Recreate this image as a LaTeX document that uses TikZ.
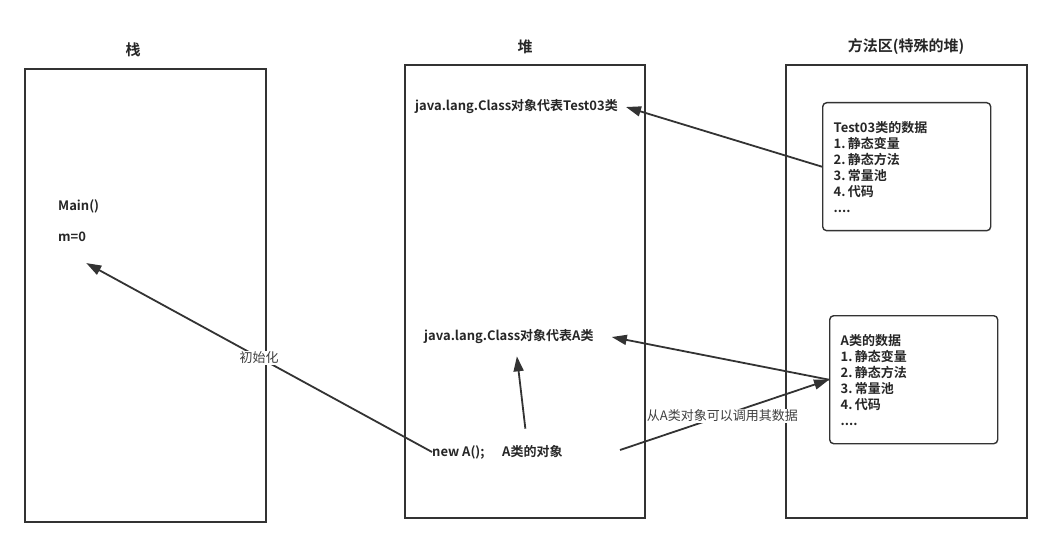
\documentclass[tikz,border=0pt]{standalone}
\usepackage{fontspec}
\setmainfont{Noto Sans CJK SC}[BoldFont={Noto Sans CJK SC Bold}]
\usetikzlibrary{arrows.meta}

\begin{document}
\begin{tikzpicture}[x=1pt, y=-1pt,
  area/.style={draw=black!80, line width=1.6pt},
  databox/.style={draw=black!80, line width=1.4pt, rounded corners=4pt, align=left,
    text width=146pt, inner xsep=11pt, minimum height=128pt, anchor=north west,
    font=\bfseries\fontsize{13}{16}\selectfont, text=black!85},
  title/.style={font=\bfseries\fontsize{15}{18}\selectfont, text=black!85},
  txt/.style={font=\bfseries\fontsize{13}{15}\selectfont, inner sep=0pt, anchor=west, text=black!85},
  arr/.style={draw=black!80, line width=1.8pt, -{Triangle[length=15pt,width=10pt]}},
  lbl/.style={font=\fontsize{13}{15}\selectfont, fill=white, inner sep=1pt, text=black!75},
]
  \useasboundingbox (0,0) rectangle (1052,548);

  % the three areas
  \draw[area] (25,69) rectangle (266,522);
  \draw[area] (405,65) rectangle (645,518);
  \draw[area] (786,65) rectangle (1027,518);
  \node[title] (stackT) at (133,50) {栈};
  \node[title] (heapT) at (525,47) {堆};
  \node[title] (methT) at (906,47) {方法区(特殊的堆)};

  % stack
  \node[txt] (main) at (58,206) {Main()};
  \node[txt] (m) at (58,237) {m=0};

  % heap
  \node[txt] (clsT) at (415,107) {java.lang.Class对象代表Test03类};
  \node[txt] (clsA) at (424,337) {java.lang.Class对象代表A类};
  \node[txt] (newA) at (432,452) {new A();};
  \node[txt] (objA) at (502,452) {A类的对象};

  % method area
  \node[databox] (t03) at (822,102) {Test03类的数据\\1.\,静态变量\\2.\,静态方法\\3.\,常量池\\4.\,代码\\....};
  \node[databox] (aData) at (829,315) {A类的数据\\1.\,静态变量\\2.\,静态方法\\3.\,常量池\\4.\,代码\\....};

  \coordinate (objR) at (620,450);

  \draw[arr] (t03.west) -- ([xshift=8pt]clsT.east);
  \draw[arr] (aData.west) -- ([xshift=18pt]clsA.east);
  \draw[arr] (objR) -- (aData.west) node[lbl, pos=0.49] {从A类对象可以调用其数据};
  \draw[arr] (newA.west) -- ([yshift=-21pt]m.south east) node[lbl, pos=0.5] {初始化};
  \draw[arr] ([xshift=-7pt, yshift=17pt]objA.north) -- ([xshift=8pt, yshift=-12pt]clsA.south);
\end{tikzpicture}
\end{document}
